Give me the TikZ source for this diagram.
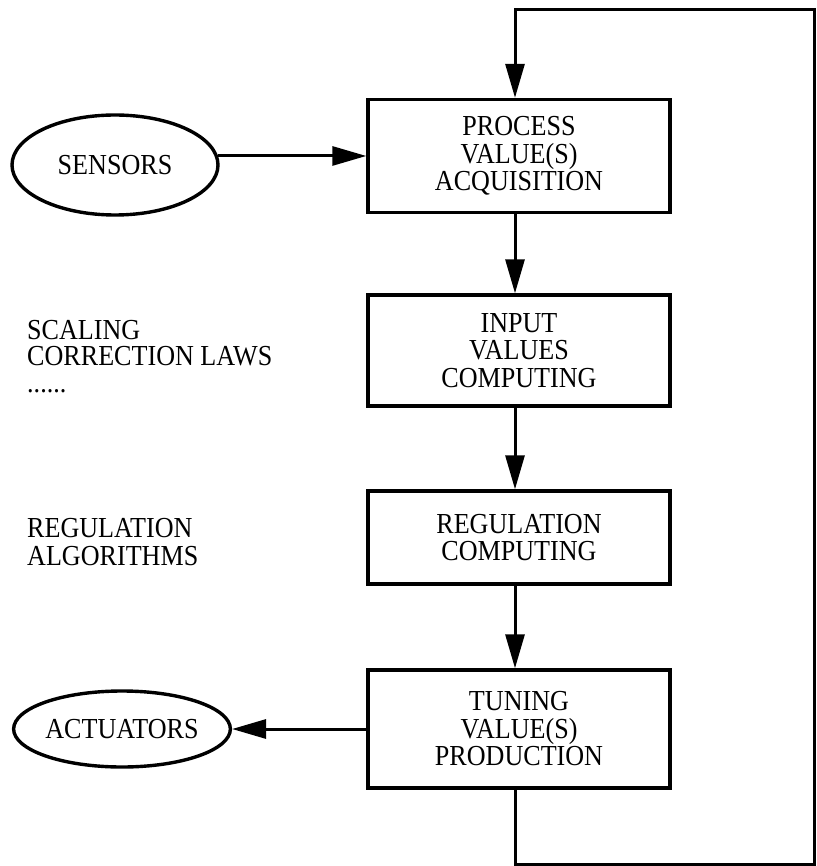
\documentclass[tikz,border=0pt]{standalone}
\usepackage{fontspec}
\setmainfont{Liberation Serif}[FakeStretch=0.9]
\usetikzlibrary{arrows.meta,shapes.geometric}
\begin{document}
\begin{tikzpicture}[x=1pt,y=-1pt,
  every node/.style={font=\fontsize{29}{27.5}\selectfont},
  blk/.style={draw,line width=3.4pt,minimum width=302pt,inner sep=0pt,align=center},
  oval/.style={draw,ellipse,line width=3.4pt,inner sep=0pt},
  lbl/.style={anchor=north west,inner sep=0pt,align=left},
  arr/.style={line width=3pt,-{Triangle[length=34pt,width=19pt]}}]
\useasboundingbox (0,0) rectangle (816,866);
% process blocks
\node[blk,minimum height=113pt] (b1) at (519,156) {PROCESS\\VALUE(S)\\ACQUISITION};
\node[blk,minimum height=111pt] (b2) at (519,350.5) {INPUT\\VALUES\\COMPUTING};
\node[blk,minimum height=93pt] (b3) at (519,537.5) {REGULATION\\COMPUTING};
\node[blk,minimum height=118pt] (b4) at (519,729) {TUNING\\VALUE(S)\\PRODUCTION};
% ovals
\node[oval,minimum width=206pt,minimum height=100pt] (sensors) at (115,165) {SENSORS};
\node[oval,minimum width=216pt,minimum height=76pt] (actuators) at (122,729) {ACTUATORS};
% side labels
\node[lbl,font=\fontsize{29}{26.5}\selectfont] (scal) at (27,320) {SCALING\\CORRECTION LAWS\\......};
\node[lbl,font=\fontsize{29}{28}\selectfont] (regal) at (27,518) {REGULATION\\ALGORITHMS};
% helper coordinates
\coordinate (cx) at (515,0);
\coordinate (tl) at (515,10);
\coordinate (tr) at (814,10);
\coordinate (br) at (814,864);
\coordinate (bl) at (515,864);
% connectors
\draw[arr] (sensors.5) -- (sensors.5 -| b1.west);
\draw[arr] (b1.south -| cx) -- (b2.north -| cx);
\draw[arr] (b2.south -| cx) -- (b3.north -| cx);
\draw[arr] (b3.south -| cx) -- (b4.north -| cx);
\draw[arr] (b4.west) -- (b4.west -| actuators.east);
\draw[arr,line join=miter] (b4.south -| cx) -- (bl) -- (br) -- (tr) -- (tl) -- (b1.north -| cx);
\end{tikzpicture}
\end{document}
